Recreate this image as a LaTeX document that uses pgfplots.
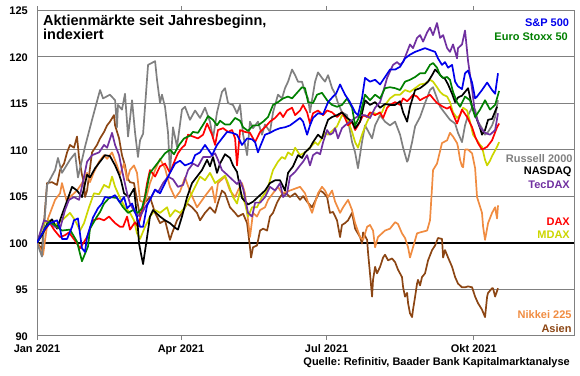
\documentclass[border=0pt]{standalone}
\usepackage{pgfplots}
\pgfplotsset{compat=1.18}
\usepackage{fontspec}
\setmainfont{Liberation Sans}
\frenchspacing
\definecolor{cSP}{RGB}{0,0,235}
\definecolor{cES}{RGB}{0,128,0}
\definecolor{cRU}{RGB}{128,128,128}
\definecolor{cTD}{RGB}{112,48,160}
\definecolor{cDX}{RGB}{255,0,0}
\definecolor{cMD}{RGB}{204,214,0}
\definecolor{cNK}{RGB}{240,140,65}
\definecolor{cAS}{RGB}{140,70,20}
\begin{document}
\begin{tikzpicture}
\path[use as bounding box] (-37pt,-39.3pt) rectangle (543pt,335.7pt);
\begin{axis}[
  at={(0pt,0pt)}, anchor=south west, scale only axis,
  width=537pt, height=325.7pt,
  xmin=0, xmax=335.6, ymin=90, ymax=125,
  axis line style={draw=gray, line width=0.8pt},
  xtick={0,90,181,273}, xticklabels={Jan 2021,Apr 2021,Jul 2021,Okt 2021},
  ytick={90,95,...,125},
  ymajorgrids, major grid style={draw=gray, line width=0.8pt},
  xtick align=outside, major tick length=4pt,
  xtick style={draw=gray, line width=0.8pt},
  ytick style={draw=none},
  tick label style={font=\bfseries\fontsize{11}{13}\selectfont, inner sep=0pt},
  /pgf/number format/assume math mode=true,
  yticklabel style={anchor=east, xshift=-9pt, yshift=-1pt},
  xticklabel style={anchor=base, yshift=-12.6pt},
  every axis plot/.append style={line width=1.7pt, mark=none, line join=round},
]
\addplot[black, line width=1.8pt] coordinates {(0,100) (335.6,100)};
% Asien
\addplot[cAS] coordinates {(0,100) (3.1,99.3) (6.3,106.4) (9.4,106.5) (12.5,106.2) (14.4,107.8) (16.9,108.5) (18.8,109.7) (20.6,110.5) (23.1,110.2) (25,111.4) (26.3,109.1) (28.1,107.3) (29.4,106.4) (30,104.9) (31.3,105.6) (34.4,109.7) (37.5,110.5) (39.4,111.2) (41.9,111.9) (43.8,112.6) (45.6,113) (48.1,113.7) (48.8,112.6) (51.3,111.2) (53.1,109.4) (55,108.3) (56.3,107) (58.1,106.5) (60.6,106.4) (62.5,104.6) (64.4,102.8) (66.9,104.2) (70.6,104.9) (73.8,103.2) (76.9,102.1) (80,102.4) (83.1,100.3) (84.4,101) (87.5,102.4) (90.6,103.2) (93.8,104.2) (96.9,103.8) (100,103.2) (101.9,102.4) (105,103.2) (108.1,103.8) (111.3,103.2) (113.1,104.3) (115.6,105.6) (117.5,105.3) (120.6,103.8) (123.8,103.2) (125.6,102.8) (128.8,103.1) (131.3,102.1) (133.1,99.5) (133.8,98.4) (135,99.5) (137.5,99.7) (139.4,101.3) (141.3,101.5) (143.8,101.3) (145.6,102.8) (147.5,103.2) (150,104.3) (151.9,104.9) (153.8,105.3) (156.3,105.2) (158.1,104.9) (161.3,105.3) (164.4,104.6) (166.3,105) (168.8,104.4) (171.9,103.8) (175,104.9) (176.9,105.6) (178.8,105.4) (181.3,104.9) (183.1,103.2) (185,103.3) (187.5,102.4) (189.4,100.6) (190.6,101.9) (192.5,102.1) (194.4,102.4) (196.9,103.2) (198.8,101.5) (201.9,100.6) (203.1,99.9) (203.8,101.1) (206.3,100.3) (206.9,98.9) (208.1,96.7) (209.4,94.2) (210,96) (211.3,97.4) (212.5,96.7) (214.4,97.4) (216.3,98.4) (217.5,98.7) (219.4,98.1) (221.9,98.3) (223.8,97.9) (225.6,97.1) (228.1,96.3) (228.8,95.2) (230,94.2) (231.3,94.6) (231.9,93.5) (233.1,92.4) (234.4,92) (235,92.8) (236.3,94.2) (237.5,95.6) (238.1,96) (239.4,95.4) (240.6,96.3) (242.5,96.7) (244.4,98.1) (246.9,99.2) (248.8,99.7) (250.6,100.5) (253.1,100.4) (253.8,98.4) (255,99.2) (256.9,98.4) (259.4,97.4) (261.3,96.3) (263.1,95.6) (265.6,95.2) (267.5,95.2) (269.4,95.3) (271.9,95.2) (273.8,94.2) (275.6,93.5) (278.1,92.8) (280,92) (281.3,94.2) (281.9,94.6) (284.4,95.1) (285,95.1) (286.3,94.2) (288.1,95.1)};
% Nikkei 225
\addplot[cNK] coordinates {(0,100) (3.8,98.7) (6.9,102.6) (11.3,104.6) (14.4,105.3) (15.6,106.4) (18.8,104.3) (20.6,104.9) (25,105.6) (28.1,106.4) (31.3,107.5) (33.1,106.5) (35.6,107.6) (38.8,108.7) (41.9,109.4) (43.8,109) (46.9,109.7) (50,108.3) (51.9,107.3) (54.4,108.5) (56.3,106.7) (58.1,107.8) (60.6,108.3) (62.5,107.5) (64.4,104.5) (67.5,104.3) (70.6,106.4) (73.8,107.8) (76.9,109) (80,108) (83.1,106) (86.3,104.8) (89.4,105.5) (92.5,107) (95.6,105.5) (100,103.8) (105,105) (109.4,106) (111.3,104.3) (113.1,106.4) (117.5,107.1) (120.6,105.6) (123.8,104.9) (125.6,105.6) (128.1,106.4) (130,105.3) (131.9,102.4) (133.1,100.6) (135,103.2) (137.5,102.8) (139.4,103.5) (142.5,103.8) (144.4,104.6) (148.8,105.6) (150.6,106) (153.1,105.3) (158.1,105.6) (164.4,106) (167.5,105.3) (169.4,104.3) (171.9,103.2) (173.8,104.3) (175.6,105.3) (178.1,106) (180,105.6) (181.9,104.9) (184.4,105.6) (186.3,104.4) (189.4,103.2) (191.3,103.8) (194.4,104.6) (196.9,103.5) (198.8,102.1) (201.9,100.6) (203.8,100.3) (206.3,101.7) (208.1,101.9) (210,101.3) (211.3,99.5) (213.1,100.6) (215.6,101) (217.5,101.3) (220.6,101.5) (223.8,102.2) (225.6,102) (228.1,101) (230,100.5) (231.9,99.5) (233.1,98.4) (235,99.5) (237.5,101) (239.4,101.1) (243.8,101.3) (245.6,102.4) (246.9,106) (247.5,107.8) (250,108.5) (253.1,110.7) (256.3,111) (258.1,111.8) (260,111.4) (262.5,110.7) (263.1,110.3) (264.4,108.9) (265.6,108.2) (266.3,108.1) (267.5,110) (269.4,110) (271.9,109.6) (273.8,108) (275,104.9) (278.1,103.2) (278.8,101.7) (280,100.3) (281.9,102.1) (284.4,103.2) (286.3,103.8) (287.5,102.6) (288.1,104)};
% Russell 2000
\addplot[cRU] coordinates {(0,100) (3.1,98.5) (6.3,106.2) (11.3,107.8) (13.1,109.1) (15.6,107.5) (20.6,108.9) (23.8,109.6) (25.6,107) (30,110.3) (34.4,113.2) (39.4,116.4) (41.3,115.5) (45.6,115.9) (48.8,115.3) (50,112.4) (50.6,114.8) (53.1,114.3) (55,116) (56.9,111.4) (59.4,115.3) (61.3,111.8) (63.1,109.2) (64.4,111) (66.3,111.7) (69.4,119.1) (73.8,119.5) (75,117.5) (76.9,115) (78.1,115.9) (80,114.6) (81.9,111.8) (83.1,107.5) (85,112.4) (87.5,110.3) (90.6,114.3) (92.5,114.6) (95.6,113.2) (98.8,114.2) (101.9,113.4) (105,114.5) (108.1,113) (110,111.2) (112.5,114) (115.6,116.2) (117.5,116.6) (119.4,115) (122.5,114.8) (125,113.9) (126.9,114.8) (128.8,111.6) (131.3,109.4) (133.1,113) (135,112.3) (138.1,113) (140.6,111.6) (142.5,112.7) (145.6,111.9) (147.5,114) (150.6,115.9) (153.1,115.5) (155,116.6) (156.9,117.3) (159.4,118.6) (161.3,118) (163.1,117.3) (165.6,117.3) (167.5,116.2) (169.4,115.5) (170.6,114) (173.8,117.3) (175.6,118.3) (178.1,117.7) (180,117.3) (181.9,118) (184.4,116.6) (186.3,116) (188.1,115) (190.6,114) (193.8,113.7) (196.9,110.8) (198.8,109.7) (200.6,108) (203.1,110.8) (205,112.6) (206.9,112) (209.4,111.2) (211.3,112.6) (214.4,113.7) (217.5,113) (220.6,112.6) (223.8,113) (226.9,111.6) (228.8,110.2) (231.3,108.7) (231.9,108.9) (234.4,110.8) (236.3,112.5) (239.4,113.5) (242.5,115) (245.6,116.4) (247.5,116.7) (250,115.5) (251.9,114.6) (255,113.9) (258.1,113.2) (261.3,112.8) (263.1,111.8) (265.6,110.8) (267.5,112.6) (269.4,113.7) (271.9,114.5) (273.8,114.3) (275.6,113) (278.1,112.3) (280,111.6) (281.9,111.9) (284.4,112.6) (286.3,113.5) (288.1,115.3)};
% MDAX
\addplot[cMD] coordinates {(0,100) (4.4,102.1) (7.5,102.4) (11.3,101.9) (15.6,102.4) (20.6,103.2) (23.8,102.4) (26.9,101.3) (29.4,102.1) (32.5,103.8) (35.6,105.3) (38.8,105.2) (41.9,106.2) (45,105.9) (46.9,107.1) (48.8,106) (51.9,104.8) (55,103.8) (58.1,103.2) (60.6,102.4) (62.5,101) (64.4,100.4) (67.5,101.7) (70.6,102.8) (73.8,103.5) (76.9,103.2) (81.3,103.8) (83.1,102.8) (86.3,103.5) (89.4,103.2) (92.5,103.8) (95.6,104.9) (98.8,106) (101.9,107.1) (105,106.7) (108.1,107.5) (111.3,106.4) (114.4,106.8) (117.5,107.2) (119.4,106.4) (122.5,104.9) (125,104.2) (126.9,105.6) (130,104.2) (131.9,102.8) (134.4,103.8) (137.5,103.8) (140.6,104.9) (143.8,105.6) (145.6,106.7) (147.5,107.8) (150.6,108.7) (153.1,109.2) (155,109) (156.9,109.7) (159.4,109.4) (161.3,110.2) (164.4,109.4) (167.5,109.7) (170.6,110.2) (173.8,110.8) (175.6,110.5) (178.1,111.2) (180,111.8) (181.9,111.6) (185,112.1) (187.5,112.5) (190.6,113.7) (193.8,113.4) (196.9,111.9) (198.8,110.8) (200.6,110.2) (203.1,111.6) (206.3,113) (209.4,114) (212.5,113.8) (215.6,114) (217.5,114.8) (220.6,115.5) (223.8,115.9) (226.9,115.9) (230,116.4) (233.1,116.2) (236.3,116.6) (239.4,117) (242.5,117.1) (245.6,117.5) (247.5,117.3) (250,116.7) (251.9,116.2) (253.8,115.9) (256.3,115.7) (258.1,115.1) (260,114) (262.5,113.4) (264.4,113.7) (266.3,114.5) (268.8,114.2) (270.6,113) (272.5,111.6) (275,111) (276.9,110.5) (278.1,110.3) (280,108.9) (281.3,108.3) (283.1,108.8) (284.4,109.3) (287.5,110.3) (288.8,110.8)};
% DAX
\addplot[cDX] coordinates {(0,100) (1.9,100.6) (6.3,101.7) (8.1,102.1) (10.6,101.4) (14.4,100.6) (17.5,100.8) (20,101.1) (23.8,100.2) (26.9,99.4) (31.3,100.6) (35,102.4) (38.8,102.6) (41.9,102.4) (45,102.8) (48.8,102.1) (51.9,101.7) (53.8,101.7) (56.3,102.8) (58.1,101.4) (61.3,102.2) (63.1,101.7) (66.3,103.8) (68.8,106.4) (70.6,107.8) (73.8,107.1) (76.9,108.2) (80,108.5) (83.1,107.5) (86.3,108.9) (88.1,109.6) (90.6,110.2) (92.5,110.5) (94.4,111.6) (97.5,111.4) (100.6,111.2) (103.8,111.6) (106.3,112.8) (109.4,111.6) (111.3,110.5) (113.1,112.1) (116.3,112.3) (119.4,111.9) (121.9,112.1) (123.8,111.2) (125,108.3) (126.9,112.1) (130,111.9) (133.1,111.8) (136.3,110.8) (139.4,111.9) (142.5,112.4) (145.6,113) (148.8,113.4) (151.9,114) (153.8,113.5) (156.3,114.2) (159.4,114.5) (161.3,113.7) (164.4,114.2) (166.3,114.8) (168.8,114) (170.6,112.8) (172.5,113.9) (175.6,114.2) (178.8,113.7) (181.3,114.2) (184.4,114) (187.5,113.5) (190.6,114) (192.5,113.4) (194.4,112.6) (196.9,113) (198.8,112.1) (200.6,112.6) (203.8,113.7) (206.3,113.5) (208.1,114) (211.3,113.7) (214.4,114) (216.3,113.4) (218.8,114.5) (220.6,114.8) (223.8,115.1) (226.9,114.8) (228.8,115.5) (231.3,115.2) (233.1,115.5) (235,115.9) (237.5,115.7) (239.4,115.3) (241.3,115.5) (243.8,115.7) (245.6,115.9) (247.5,115.5) (250,115) (251.9,114.8) (253.8,114.6) (256.3,114.4) (258.1,114.6) (260,113.8) (262.5,112.8) (265.6,114.3) (268.8,113.5) (271.9,112.4) (273.8,111.4) (275.6,110.7) (278.1,110) (281.3,110.3) (284.4,111) (287.5,112.4) (288.8,112.8)};
% NASDAQ
\addplot[black] coordinates {(0,100) (3.1,100.8) (6.3,102) (9.4,102.5) (12.5,101.5) (15.6,103) (18.8,104.5) (21.9,106) (25,105.6) (28.1,104.9) (31.3,107.3) (33.1,107) (36.3,108) (39.4,108.7) (42.5,109.4) (45.6,109.3) (48.8,108.3) (51.3,107.3) (52.5,106.7) (54.4,105.3) (57.5,104.9) (60.6,105.8) (62.5,102.8) (63.8,99.9) (65,98.8) (66.3,97.7) (68.8,100.6) (70.6,102.8) (72.5,103.5) (76.9,102.8) (80,102.4) (83.1,102.1) (86.3,101.6) (88.1,101.4) (90.6,102.8) (93.8,104.9) (96.9,106.4) (100,107.1) (103.1,107.8) (106.3,108.9) (108.1,108.2) (110,109.2) (112.5,107.5) (114.4,108.5) (117.5,109.5) (120.6,109.1) (122.5,108.3) (125,107.6) (128.1,104.8) (131.9,104.1) (135,104.4) (138.1,104.9) (142.5,105.6) (145.6,106.4) (148.8,106.7) (151.9,106.7) (155,105.6) (156.9,107.5) (160,108.2) (163.1,109.4) (165.6,109.1) (167.5,109.7) (170.6,110.2) (172.5,110.8) (175.6,111.6) (178.1,111.2) (180,112.3) (181.9,113.2) (184.4,113.5) (187.5,113.7) (190.6,114) (193.8,113.4) (196.9,113) (198.8,112.3) (201.9,113) (205,115.3) (208.1,114.8) (211.3,115.1) (214.4,114.5) (217.5,114.9) (220.6,114.8) (223.8,114.8) (226.9,115.2) (228.8,114) (231.3,113) (233.1,114.6) (236.3,116.4) (239.4,116.6) (242.5,117) (244.4,117.3) (246.9,118) (248.8,118.6) (250.6,118.3) (253.1,117.8) (255,117.6) (256.9,117) (259.4,116) (261.3,115.1) (263.1,115.6) (265.6,115.8) (269.4,116.6) (271.9,114.6) (275,113.2) (276.9,112.3) (278.1,111.6) (280,112.1) (281.9,113.2) (284.4,113.3) (287.5,114.6)};
% TecDAX
\addplot[cTD] coordinates {(0,100) (4.4,102.4) (7.5,102.2) (11.3,101.7) (14.4,101.5) (17.5,103.5) (20,104.6) (23.1,104.9) (26.3,104.6) (29.4,107.1) (31.3,108.7) (34.4,109.4) (38.8,109.7) (41.9,110.5) (43.8,110.2) (46.9,111.8) (48.8,110.5) (51.3,109.4) (53.1,107.8) (56.3,105.3) (58.1,104.2) (61.3,103.2) (64.4,102.8) (67.5,103.8) (70.6,104.6) (73.8,105.7) (75.6,105.4) (78.8,106.4) (81.9,107.1) (85,106.8) (88.1,106) (91.3,106.2) (94.4,107.8) (97.5,108.5) (100.6,108.2) (103.8,109.2) (108.1,109.2) (111.3,109.6) (113.1,108.9) (115.6,107.8) (118.8,107.3) (122.5,106.7) (125,106.3) (126.9,106.7) (128.8,105.8) (131.9,103.2) (134.4,102.8) (136.3,104.3) (139.4,104.3) (142.5,104.9) (145.6,106) (148.8,105.6) (151.9,106.4) (153.8,104.9) (156.3,105.3) (158.1,107.1) (161.3,107.6) (164.4,108.3) (166.3,108.7) (168.8,109.4) (170.6,108.3) (172.5,109.4) (175,109.7) (176.9,109.5) (178.8,110.8) (181.3,112.1) (183.1,111.6) (185,111.8) (186.3,112.3) (188.1,111.2) (190.6,112.3) (192.5,112.6) (195.6,113) (198.8,113.4) (201.9,113.7) (205,113.7) (208.1,113.4) (211.3,114.5) (214.4,115.1) (216.3,116.2) (218.8,117.7) (220.6,118.4) (222.5,119.1) (225,119.4) (226.9,119.1) (228.8,119.4) (231.3,120.5) (233.1,121.3) (235,120.9) (237.5,122) (239.4,122.3) (241.3,121.6) (243.8,122.6) (245.6,123.1) (247.5,122.3) (250,123.6) (251.9,122) (253.8,122.3) (256.3,120.9) (258.1,120.5) (260,121.3) (262.5,119.8) (263.1,120.9) (265.6,121.3) (267.5,122.8) (269.4,119.5) (271.9,116.5) (273.8,113.8) (276.9,112.4) (280,111.8) (283.1,111.6) (286.3,112.1) (288.1,113.9)};
% Euro Stoxx 50
\addplot[cES] coordinates {(0,100) (4.4,101.3) (7.5,102.2) (11.3,101.9) (15.6,101.3) (20.6,101.4) (25,100.1) (28.1,98) (31.9,99.6) (33.1,101.5) (37.5,102.8) (39.4,103.3) (41.9,104.2) (45.6,104.9) (50,104.8) (53.8,103.8) (56.9,103.2) (60,103.5) (63.1,103.2) (65.6,103.7) (67.5,104.9) (70.6,107.5) (73.8,108.2) (76.9,108.9) (80,109.6) (83.1,110) (85.6,109.5) (88.8,110.5) (91.9,111.2) (95.6,111.5) (97.5,111.9) (100.6,111.8) (105,113) (106.9,113.6) (110,113.2) (112.5,112.6) (114.4,113.1) (117.5,112.7) (120.6,112.7) (123.8,113.4) (126.9,113.1) (128.8,112.4) (131.9,112) (135,112.6) (138.1,112.6) (141.3,113) (144.4,113.5) (147.5,114.8) (150.6,115.1) (153.8,115.5) (156.9,115.7) (159.4,115.5) (162.5,116.1) (165.6,116.7) (167.5,116.6) (169.4,115.1) (172.5,115) (175,115.9) (178.1,116.1) (181.3,115.3) (184.4,114.8) (187.5,114.6) (190.6,114.8) (193.8,115.5) (196.9,114.5) (198.8,112.6) (201.9,113.7) (205,115.9) (208.1,115.3) (211.3,115.9) (214.4,115.5) (217.5,116.6) (220.6,116.7) (223.8,116.6) (226.9,116.4) (230,117.3) (233.1,117.5) (236.3,117.8) (239.4,118.2) (242.5,118.2) (245.6,119.1) (247.5,119.3) (250,118.8) (251.9,118) (253.8,117.7) (256.3,117.8) (258.1,117.5) (260,116.2) (262.5,115.1) (264.4,114.6) (267.5,115.7) (270.6,115.3) (273.8,113.5) (276.9,114.3) (280,115.3) (283.1,114.3) (286.3,114.8) (288.8,116.3)};
% S&P 500
\addplot[cSP] coordinates {(0,100) (5,101.5) (8.1,102.1) (12.5,102.4) (14.4,101.5) (15.6,100.4) (18.8,100.4) (21.9,101.7) (23.1,102.4) (25.6,102.6) (28.1,99.4) (30,99) (31.3,100.6) (35,102.7) (38.1,103.7) (40.6,104.2) (42.5,104.9) (45.6,104.8) (48.8,105.1) (51.9,104.3) (54.4,104.9) (56.3,103.7) (59.4,104.2) (62.5,102.7) (64.4,101.7) (66.3,101.7) (68.8,104) (70.6,104.6) (73.8,105.7) (76.9,105.3) (80,106.4) (83.1,107.5) (86.3,108.5) (89.4,108.8) (92.5,108.3) (96.9,108.6) (98.8,109.4) (101.9,109.7) (105,110.5) (109.4,109.4) (112.5,110.5) (115.6,111.2) (118.8,111.9) (121.9,111.8) (125,111.6) (128.1,110.5) (131.3,111.2) (134.4,111.1) (136.3,110.8) (138.1,109.7) (139.4,110.3) (142.5,111.6) (145.6,111.8) (148.8,112.1) (151.9,112.3) (155,112.4) (158.1,112.6) (161.3,113) (164.4,113.4) (166.3,113) (168.8,111.6) (170.6,112.6) (172.5,113.4) (175.6,113.9) (178.8,113.8) (181.9,115.1) (185,115.7) (186.9,116) (189.4,117) (192.5,115.9) (195.6,115.1) (198.8,114) (200.6,113.7) (203.1,115.5) (205,117.7) (208.1,117.3) (211.3,117.5) (214.4,117) (217.5,117.8) (220.6,118.6) (223.8,118.6) (226.9,118.9) (230,119.8) (233.1,120.2) (236.3,120.5) (239.4,120.7) (242.5,120.9) (245.6,120.7) (248.8,120.5) (250.6,119.8) (253.1,119.1) (255,119.4) (256.9,118.8) (259.4,119.1) (261.3,117.3) (263.1,116.8) (265.6,116.5) (267.5,118.2) (269.4,118.5) (271.9,117.2) (273.8,115.5) (275,115.7) (278.1,116.4) (281.3,117.2) (284.4,116.4) (286.3,116) (288.1,118.2)};
\end{axis}
\begin{scope}[every node/.style={inner sep=0pt, font=\bfseries\fontsize{11}{13}\selectfont}]
\node[anchor=base west, font=\bfseries\fontsize{14.5}{16}\selectfont] at (6pt,310pt) {Aktienmärkte seit Jahresbeginn,};
\node[anchor=base west, font=\bfseries\fontsize{14.5}{16}\selectfont] at (6pt,295.7pt) {indexiert};
\node[anchor=base east, text=cSP] at (532.3pt,308.7pt) {S\&P 500};
\node[anchor=base east, text=cES] at (531pt,294.7pt) {Euro Stoxx 50};
\node[anchor=base east, text=cRU] at (535.7pt,172.7pt) {Russell 2000};
\node[anchor=base east, text=black] at (534.7pt,160.7pt) {NASDAQ};
\node[anchor=base east, text=cTD] at (533pt,147.5pt) {TecDAX};
\node[anchor=base east, text=cDX] at (533pt,110.7pt) {DAX};
\node[anchor=base east, text=cMD] at (533pt,97.7pt) {MDAX};
\node[anchor=base east, text=cNK] at (534.7pt,17.7pt) {Nikkei 225};
\node[anchor=base east, text=cAS] at (534.7pt,3.7pt) {Asien};
\node[anchor=base east, text=black] at (533pt,-29.3pt) {Quelle: Refinitiv, Baader Bank Kapitalmarktanalyse};
\end{scope}
\end{tikzpicture}
\end{document}
